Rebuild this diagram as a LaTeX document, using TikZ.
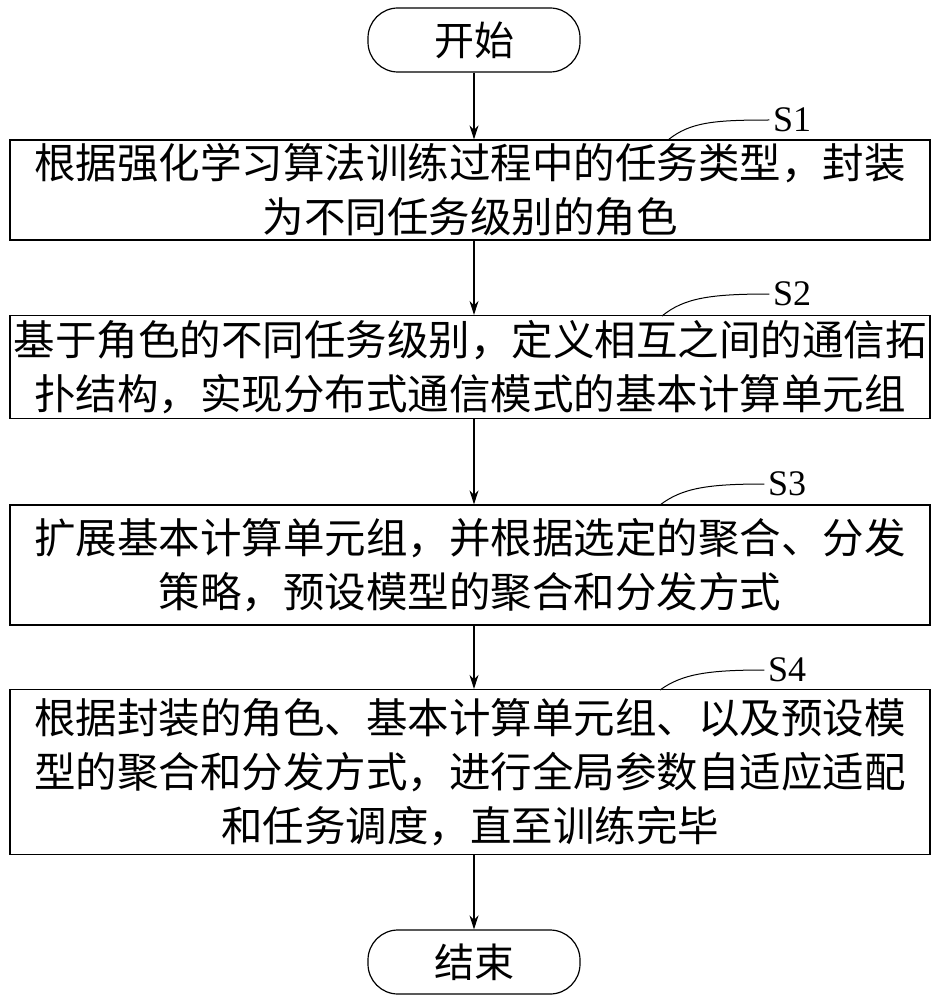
\documentclass[tikz,border=0pt]{standalone}
\usepackage{fontspec}
\setmainfont{Liberation Serif}
\newfontfamily\cjk{Noto Sans CJK SC}
\usetikzlibrary{arrows.meta}
\tikzset{
  stepbox/.style={draw,line width=1.2pt,minimum width=920pt,inner sep=0pt,align=center,font=\cjk\fontsize{41.5}{54}\selectfont},
  endbox/.style={draw,line width=1.2pt,rounded corners=30pt,minimum width=212pt,minimum height=64pt,font=\cjk\fontsize{40}{46}\selectfont},
  flow/.style={-{Stealth[length=14pt,width=9pt]},line width=1.2pt},
  tag/.style={font=\fontsize{36}{40}\selectfont}
}
\begin{document}
\begin{tikzpicture}[x=1pt,y=-1pt]
\useasboundingbox (0,0) rectangle (949,1000);
\node[endbox] (start) at (474,40) {开始};
\node[stepbox,minimum height=100pt] (s1) at (470,190) {根据强化学习算法训练过程中的任务类型，封装\\为不同任务级别的角色};
\node[stepbox,minimum height=103pt] (s2) at (470,367) {基于角色的不同任务级别，定义相互之间的通信拓\\扑结构，实现分布式通信模式的基本计算单元组};
\node[stepbox,minimum height=120pt] (s3) at (470,565) {扩展基本计算单元组，并根据选定的聚合、分发\\策略，预设模型的聚合和分发方式};
\node[stepbox,minimum height=165pt] (s4) at (470,772) {根据封装的角色、基本计算单元组、以及预设模\\型的聚合和分发方式，进行全局参数自适应适配\\和任务调度，直至训练完毕};
\node[endbox] (stop) at (474,962) {结束};
% connectors
\draw[flow] (start) -- (start |- s1.north);
\draw[flow] (start |- s1.south) -- (start |- s2.north);
\draw[flow] (start |- s2.south) -- (start |- s3.north);
\draw[flow] (start |- s3.south) -- (start |- s4.north);
\draw[flow] (start |- s4.south) -- (stop);
% step tags
\node[tag] (t1) at (792,120) {S1};
\node[tag] (t2) at (792,294) {S2};
\node[tag] (t3) at (787,484) {S3};
\node[tag] (t4) at (787,670) {S4};
\draw[line width=1pt] (668,140) .. controls (690,122) and (715,120) .. (t1.west);
\draw[line width=1pt] (662,316) .. controls (684,298) and (710,294) .. (t2.west);
\draw[line width=1pt] (660,505) .. controls (682,488) and (708,484) .. (t3.west);
\draw[line width=1pt] (660,690) .. controls (682,674) and (708,670) .. (t4.west);
\end{tikzpicture}
\end{document}
